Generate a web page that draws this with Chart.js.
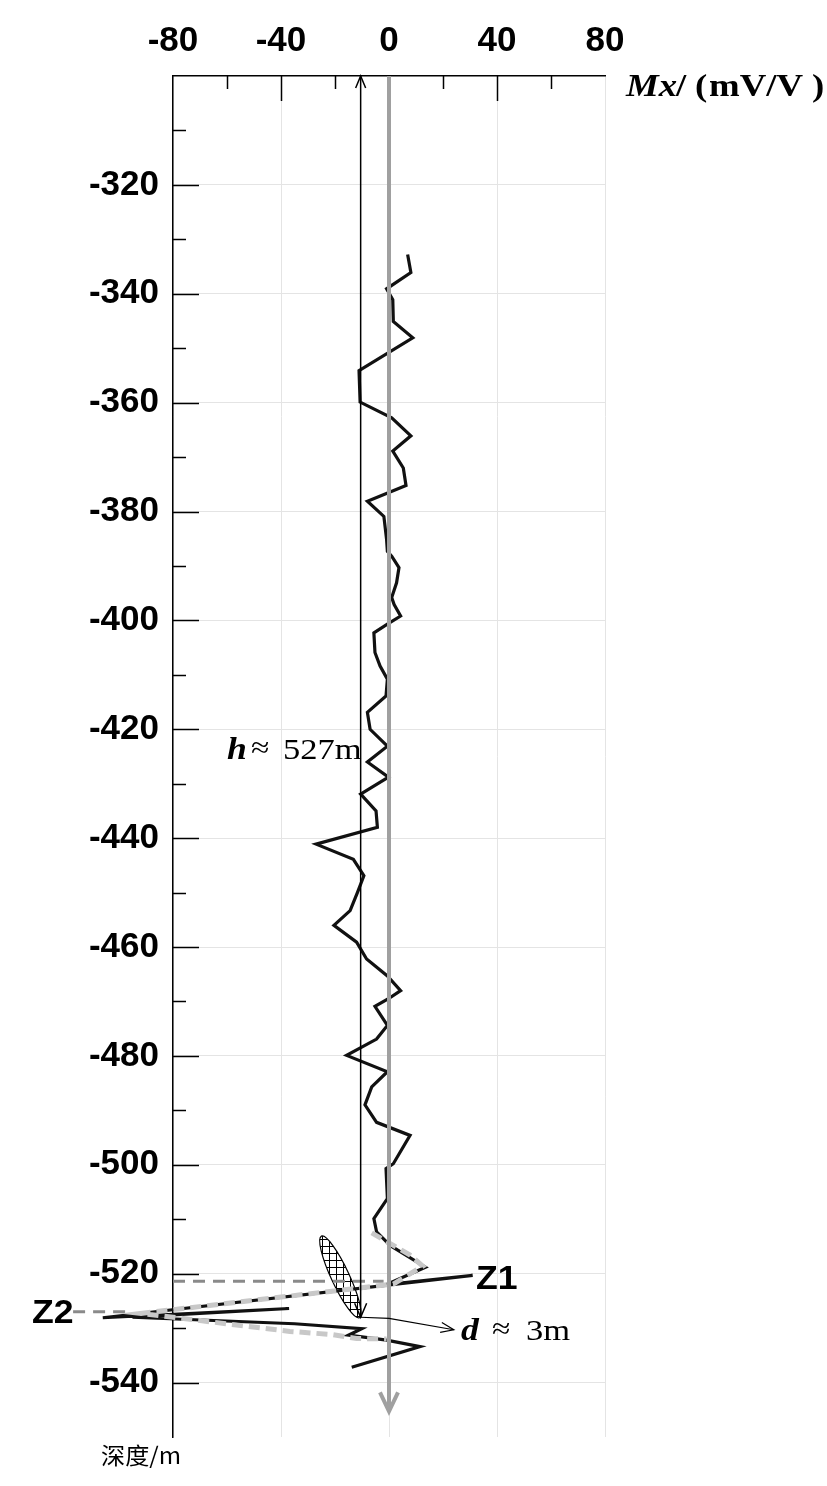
<!DOCTYPE html>
<html>
<head>
<meta charset="utf-8">
<script src="https://cdn.jsdelivr.net/npm/chart.js@4.4.0/dist/chart.umd.min.js"></script>
<style>
  html, body { margin: 0; padding: 0; background: #fff; }
  #wrap { width: 827px; height: 1486px; }
</style>
</head>
<body>
<div id="wrap"><canvas id="graph-mx" width="827" height="1486"></canvas></div>
<script>
// Courbe Mx en fonction de la profondeur
const mxValues = [
  6.9, 8.1, -0.9, 1.4, 1.6, 8.8, -11.1, -10.7, 1.0, 8.1, 1.4, 5.3, 6.3, -8.0, -1.9, -0.9,
  -0.6, 1.0, 3.7, 2.8, 1.0, 1.9, 4.3, -0.6, -5.6, -5.2, -3.3, -0.6, -1.1, -8.0, -7.0, -0.6, -8.0, -0.2,
  -10.5, -4.8, -4.3, -27.0, -13.2, -9.3, -11.7, -14.4, -20.4, -12.0, -8.3, -0.6, 4.3, -0.2, -5.2,
  -0.6, -4.6, -15.7, -0.6, -6.4, -8.9, -4.6, 7.8, 1.6, -1.1, -0.6, -5.6, -4.6, 0.4, 13.5,
  -1.0, 31.0, -106.0, -37.0, -95.0, -35.0, -10.1, -15.0, -0.9, 11.5, -13.8
];
const depthValues = [
  -332.8, -336.1, -339.1, -341.1, -345.1, -348.1, -354.1, -359.9, -362.8, -366.1, -368.9, -372.0, -375.2, -378.1, -380.9, -385.1,
  -387.3, -388.2, -390.3, -393.1, -395.8, -397.1, -399.2, -400.7, -402.3, -405.9, -408.4, -410.8, -413.9, -416.9, -420.0, -423.1, -426.0, -428.8,
  -431.9, -435.0, -438.0, -441.1, -443.9, -446.9, -450.0, -453.3, -456.0, -459.1, -462.2, -465.3, -468.0, -469.5, -470.9,
  -474.4, -476.9, -479.9, -482.9, -485.7, -489.0, -492.2, -494.6, -499.8, -500.7, -506.2, -509.9, -512.3, -514.8, -518.8,
  -522.0, -520.3, -528.1, -526.4, -528.0, -529.2, -530.1, -531.3, -532.2, -533.4, -537.2
];

// Tracé de l'anomalie (tirets gris clair)
const anomalyMx = [-6.4, 7.8, 12.5, 1.6, -92.0, -36.7, -20.6, -12.0, -0.9];
const anomalyDepth = [-512.5, -516.6, -518.6, -521.9, -527.3, -530.6, -531.2, -531.9, -532.0];

// Repères Z1 et Z2 (tirets gris foncé)
const z1Mx = [-80, -2];
const z1Depth = [-521.4, -521.4];
const z2Mx = [-117, -95];
const z2Depth = [-527.0, -527.0];

// Axes
const xMin = -80, xMax = 80, xStep = 20, xLabelStep = 40;
const yMin = -550, yMax = -300, yStep = 10, yLabelStep = 20;

// Annotations (en unités des données)
const hArrowX = -10.5;
const hArrowBottom = -528;
const dArrowPath = [[-10.5, -528], [0, -528.2], [24, -530.3]];
const grayArrowX = 0;
const grayArrowEnd = -545.3;
const ellipseCenter = [-18, -520.6];

function toPoints(xs, ys) {
  return xs.map((v, i) => ({ x: v, y: ys[i] }));
}

function arrowHead(ctx, tx, ty, angle, len, half) {
  const bx = tx - Math.cos(angle) * len, by = ty - Math.sin(angle) * len;
  const nx = -Math.sin(angle) * half, ny = Math.cos(angle) * half;
  ctx.beginPath();
  ctx.moveTo(bx + nx, by + ny);
  ctx.lineTo(tx, ty);
  ctx.lineTo(bx - nx, by - ny);
  ctx.stroke();
}

// texte un peu étiré en largeur, comme sur la figure d'origine
function texte(ctx, txt, x, y, font, sx) {
  ctx.save();
  ctx.font = font;
  ctx.translate(x, y);
  ctx.scale(sx || 1.15, 1);
  ctx.fillText(txt, 0, 0);
  ctx.restore();
}

// graduations intérieures + ellipse hachurée
const fondPlugin = {
  id: 'fond',
  beforeDatasetsDraw(chart) {
    const { ctx, chartArea: a, scales: { x, y } } = chart;
    ctx.save();
    ctx.strokeStyle = '#000';
    ctx.lineWidth = 1.5;
    ctx.beginPath();
    for (let v = xMin + xStep; v < xMax; v += xStep) {
      const px = Math.round(x.getPixelForValue(v)) + 0.5;
      const len = v % xLabelStep === 0 ? 25 : 13;
      ctx.moveTo(px, a.top);
      ctx.lineTo(px, a.top + len);
    }
    for (let v = yMax - yStep; v >= -540; v -= yStep) {
      const py = Math.round(y.getPixelForValue(v)) + 0.5;
      const len = v % yLabelStep === 0 ? 26 : 13;
      ctx.moveTo(a.left, py);
      ctx.lineTo(a.left + len, py);
    }
    ctx.stroke();

    // ellipse hachurée
    const pc = document.createElement('canvas');
    pc.width = 7; pc.height = 7;
    const p = pc.getContext('2d');
    p.strokeStyle = '#000';
    p.lineWidth = 1;
    p.beginPath();
    p.moveTo(0, 0.5); p.lineTo(7, 0.5);
    p.moveTo(0.5, 0); p.lineTo(0.5, 7);
    p.stroke();
    const cx = x.getPixelForValue(ellipseCenter[0]);
    const cy = y.getPixelForValue(ellipseCenter[1]);
    ctx.beginPath();
    ctx.ellipse(cx, cy, 45, 9, 65 * Math.PI / 180, 0, Math.PI * 2);
    ctx.fillStyle = '#fff';
    ctx.fill();
    ctx.fillStyle = ctx.createPattern(pc, 'repeat');
    ctx.fill();
    ctx.lineWidth = 1.2;
    ctx.stroke();
    ctx.restore();
  }
};

// flèches et textes
const annotPlugin = {
  id: 'annot',
  afterDatasetsDraw(chart) {
    const { ctx, chartArea: a, scales: { x, y } } = chart;
    ctx.save();

    // flèche grise (axe 0)
    const gx = x.getPixelForValue(grayArrowX);
    const gy = y.getPixelForValue(grayArrowEnd);
    ctx.strokeStyle = '#a0a0a0';
    ctx.lineWidth = 4;
    ctx.beginPath();
    ctx.moveTo(gx, a.top);
    ctx.lineTo(gx, gy);
    ctx.stroke();
    arrowHead(ctx, gx, gy, Math.PI / 2, 19, 9);

    // flèche h
    ctx.strokeStyle = '#000';
    ctx.lineWidth = 1.5;
    const hx = x.getPixelForValue(hArrowX);
    const hy = y.getPixelForValue(hArrowBottom);
    ctx.beginPath();
    ctx.moveTo(hx, a.top);
    ctx.lineTo(hx, hy);
    ctx.stroke();
    arrowHead(ctx, hx, a.top, -Math.PI / 2, 12, 5);
    arrowHead(ctx, hx, hy, Math.PI / 2, 14, 6);

    // flèche d
    ctx.lineWidth = 1.2;
    const pts = dArrowPath.map(q => [x.getPixelForValue(q[0]), y.getPixelForValue(q[1])]);
    ctx.beginPath();
    pts.forEach((q, i) => i ? ctx.lineTo(q[0], q[1]) : ctx.moveTo(q[0], q[1]));
    ctx.stroke();
    const n = pts.length;
    const ang = Math.atan2(pts[n - 1][1] - pts[n - 2][1], pts[n - 1][0] - pts[n - 2][0]);
    arrowHead(ctx, pts[n - 1][0], pts[n - 1][1], ang, 13, 5);

    // textes
    ctx.fillStyle = '#000';
    ctx.textBaseline = 'alphabetic';
    ctx.textAlign = 'left';
    texte(ctx, 'Mx', 626, 96, 'italic bold 32px "Liberation Serif"');
    texte(ctx, '/', 676, 96, 'bold 32px "Liberation Serif"');
    texte(ctx, '(', 695, 96, 'bold 32px "Liberation Serif"');
    texte(ctx, 'mV/V', 709, 96, 'bold 32px "Liberation Serif"');
    texte(ctx, ')', 812, 96, 'bold 32px "Liberation Serif"');

    texte(ctx, 'h', 227, 759, 'italic bold 31px "Liberation Serif"');
    texte(ctx, '≈', 251, 757, '29px "Liberation Serif"');
    texte(ctx, '527m', 283, 759, '30px "Liberation Serif"');

    texte(ctx, 'd', 461, 1340, 'italic bold 31px "Liberation Serif"');
    texte(ctx, '≈', 492, 1338, '29px "Liberation Serif"');
    texte(ctx, '3m', 526, 1340, '30px "Liberation Serif"');

    ctx.textBaseline = 'middle';
    texte(ctx, 'Z1', 476, 1280, 'bold 33px "Liberation Sans", Arial', 1.08);
    texte(ctx, 'Z2', 32, 1314, 'bold 33px "Liberation Sans", Arial', 1.08);

    texte(ctx, '深度/m', 101, 1455, '23px "Noto Sans CJK SC"', 1.05);
    ctx.restore();
  }
};

const ctx = document.getElementById('graph-mx').getContext('2d');
window.mxChart = new Chart(ctx, {
  type: 'scatter',
  data: {
    datasets: [
      {
        label: 'Mx',
        data: toPoints(mxValues, depthValues),
        showLine: true,
        borderColor: '#111',
        borderWidth: 3.2,
        pointRadius: 0,
        clip: false,
        order: 3
      },
      {
        label: 'Anomalie',
        data: toPoints(anomalyMx, anomalyDepth),
        showLine: true,
        borderColor: '#c8c8c8',
        borderWidth: 5,
        borderDash: [11, 6],
        pointRadius: 0,
        clip: false,
        order: 1
      },
      {
        label: 'Z1',
        data: toPoints(z1Mx, z1Depth),
        showLine: true,
        borderColor: '#8a8a8a',
        borderWidth: 3,
        borderDash: [12, 8],
        pointRadius: 0,
        clip: false,
        order: 2
      },
      {
        label: 'Z2',
        data: toPoints(z2Mx, z2Depth),
        showLine: true,
        borderColor: '#8a8a8a',
        borderWidth: 3,
        borderDash: [12, 8],
        pointRadius: 0,
        clip: false,
        order: 2
      }
    ]
  },
  options: {
    responsive: false,
    animation: false,
    devicePixelRatio: 1,
    layout: { padding: { left: 0, top: 0, right: 222, bottom: 49 } },
    plugins: {
      legend: { display: false },
      tooltip: { enabled: false }
    },
    scales: {
      x: {
        type: 'linear',
        position: 'top',
        min: xMin,
        max: xMax,
        afterFit: s => { s.height = 76; },
        ticks: {
          stepSize: xStep,
          autoSkip: false,
          maxRotation: 0,
          minRotation: 0,
          padding: 14,
          color: '#000',
          font: { family: '"Liberation Sans", Arial', size: 35, weight: 'bold' },
          callback: v => (v % xLabelStep === 0 ? String(v) : '')
        },
        grid: {
          drawTicks: false,
          lineWidth: 1,
          color: c => (c.tick && c.tick.value % xLabelStep === 0 ? '#e4e4e4' : 'rgba(0,0,0,0)')
        },
        border: { display: true, color: '#000', width: 1.5 }
      },
      y: {
        type: 'linear',
        min: yMin,
        max: yMax,
        afterFit: s => { s.width = 173; },
        ticks: {
          stepSize: yStep,
          autoSkip: false,
          padding: 14,
          color: '#000',
          font: { family: '"Liberation Sans", Arial', size: 35, weight: 'bold' },
          callback: v => (v % yLabelStep === 0 && v !== yMax ? String(v) : '')
        },
        grid: {
          drawTicks: false,
          lineWidth: 1,
          color: c => (c.tick && c.tick.value % yLabelStep === 0 && c.tick.value !== yMax ? '#e4e4e4' : 'rgba(0,0,0,0)')
        },
        border: { display: true, color: '#000', width: 1.5 }
      }
    }
  },
  plugins: [fondPlugin, annotPlugin]
});
</script>
</body>
</html>
